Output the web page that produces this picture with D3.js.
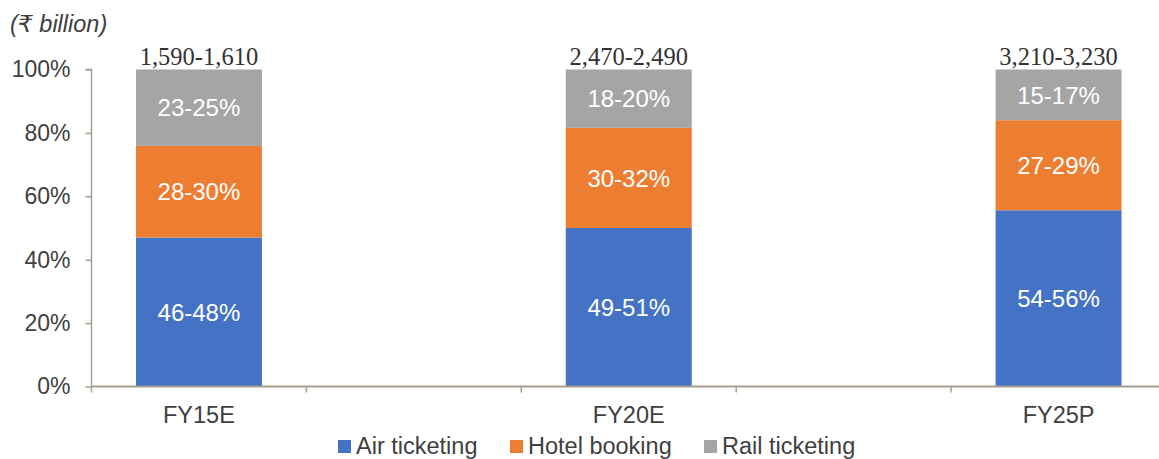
<!DOCTYPE html>
<html><head><meta charset="utf-8">
<script src="https://cdn.jsdelivr.net/npm/d3@7"></script>
<style>body{margin:0;background:#fff}svg{display:block}</style>
</head><body>
<svg id="c" width="1159" height="459"></svg>
<script>
const categories = ["FY15E", "", "FY20E", "", "FY25P"];
const airValues   = [47.0, null, 50.0, null, 55.6];
const hotelValues = [28.9, null, 31.6, null, 28.4];
const railValues  = [24.1, null, 18.4, null, 16.0];
const airLabels   = ["46-48%", "", "49-51%", "", "54-56%"];
const hotelLabels = ["28-30%", "", "30-32%", "", "27-29%"];
const railLabels  = ["23-25%", "", "18-20%", "", "15-17%"];
const totalLabels = ["1,590-1,610", "", "2,470-2,490", "", "3,210-3,230"];
const seriesNames = ["Air ticketing", "Hotel booking", "Rail ticketing"];
const colors = ["#4472C4", "#ED7D31", "#A5A5A5"];
const yTicks = [0, 20, 40, 60, 80, 100];
const unitLabel = "(₹ billion)";

(function () {
const svg = d3.select("#c");
const pLeft = 91.5, pRight = 1166, pTop = 69.5, pBottom = 386.5;
const axisColor = "#A89F91", textColor = "#404040";
const font = "'Liberation Sans', Arial, 'DejaVu Sans', sans-serif";

const pad = 89/215;
const x = d3.scaleBand().domain(d3.range(categories.length)).range([pLeft, pRight])
  .paddingInner(pad).paddingOuter(pad/2);
const y = d3.scaleLinear().domain([0, 100]).range([pBottom, pTop]);

const rows = categories.map((c, i) => ({i, c, vals: [airValues[i], hotelValues[i], railValues[i]],
  labs: [airLabels[i], hotelLabels[i], railLabels[i]]})).filter(r => r.vals[0] != null);
const stackData = rows.map(r => ({i: r.i, a: r.vals[0], h: r.vals[1], r: r.vals[2]}));
const stack = d3.stack().keys(["a", "h", "r"])(stackData);

// bars
stack.forEach((layer, k) => {
  svg.append("g").selectAll("rect").data(layer).join("rect")
    .attr("x", d => x(d.data.i)).attr("width", x.bandwidth())
    .attr("y", d => y(d[1])).attr("height", d => y(d[0]) - y(d[1]))
    .attr("fill", colors[k]);
  svg.append("g").selectAll("text").data(layer).join("text")
    .attr("x", d => x(d.data.i) + x.bandwidth()/2)
    .attr("y", d => (y(d[0]) + y(d[1]))/2)
    .attr("dy", "0.36em").attr("text-anchor", "middle")
    .attr("fill", "#fff").attr("font-family", font).attr("font-size", 24)
    .text(d => rows.find(r => r.i === d.data.i).labs[k]);
});

// total labels
svg.append("g").selectAll("text").data(rows).join("text")
  .attr("x", d => x(d.i) + x.bandwidth()/2).attr("y", pTop - 5)
  .attr("text-anchor", "middle").attr("fill", "#333")
  .attr("font-family", "'Liberation Serif', 'Times New Roman', serif").attr("font-size", 24.5)
  .text(d => totalLabels[d.i]);

// y axis
const ya = svg.append("g").attr("transform", `translate(${pLeft},0)`)
  .call(d3.axisLeft(y).tickValues(yTicks).tickSize(6).tickPadding(15).tickFormat(d => d + "%"));
ya.select(".domain").attr("stroke", axisColor).attr("stroke-width", 1.5).attr("d", `M-6,${pTop}H0V${pBottom}`);
ya.selectAll(".tick line").attr("stroke", axisColor).attr("stroke-width", 1.5);
ya.selectAll(".tick text").attr("fill", textColor).attr("font-family", font).attr("font-size", 23);

// x axis
const step = x.step();
svg.append("line").attr("x1", pLeft).attr("x2", 1159).attr("y1", pBottom).attr("y2", pBottom)
  .attr("stroke", axisColor).attr("stroke-width", 2);
svg.append("g").selectAll("line").data(d3.range(categories.length + 1)).join("line")
  .attr("x1", i => pLeft + i*step).attr("x2", i => pLeft + i*step)
  .attr("y1", pBottom).attr("y2", pBottom + 6)
  .attr("stroke", axisColor).attr("stroke-width", 1.5);
svg.append("g").selectAll("text").data(rows).join("text")
  .attr("x", d => x(d.i) + x.bandwidth()/2).attr("y", 423)
  .attr("text-anchor", "middle").attr("fill", textColor)
  .attr("font-family", font).attr("font-size", 23.5).text(d => d.c);

// unit label
svg.append("text").attr("x", 10).attr("y", 32).attr("fill", textColor)
  .attr("font-family", font).attr("font-style", "italic").attr("font-size", 23.5).text(unitLabel);

// legend
const legX = [338, 510, 704];
const lg = svg.append("g").selectAll("g").data(seriesNames).join("g")
  .attr("transform", (d, i) => `translate(${legX[i]},0)`);
lg.append("rect").attr("x", 0).attr("y", 440).attr("width", 13).attr("height", 13)
  .attr("fill", (d, i) => colors[i]);
lg.append("text").attr("x", 18).attr("y", 454).attr("fill", textColor)
  .attr("font-family", font).attr("font-size", 23.5).text(d => d);
})();
</script>
</body></html>
